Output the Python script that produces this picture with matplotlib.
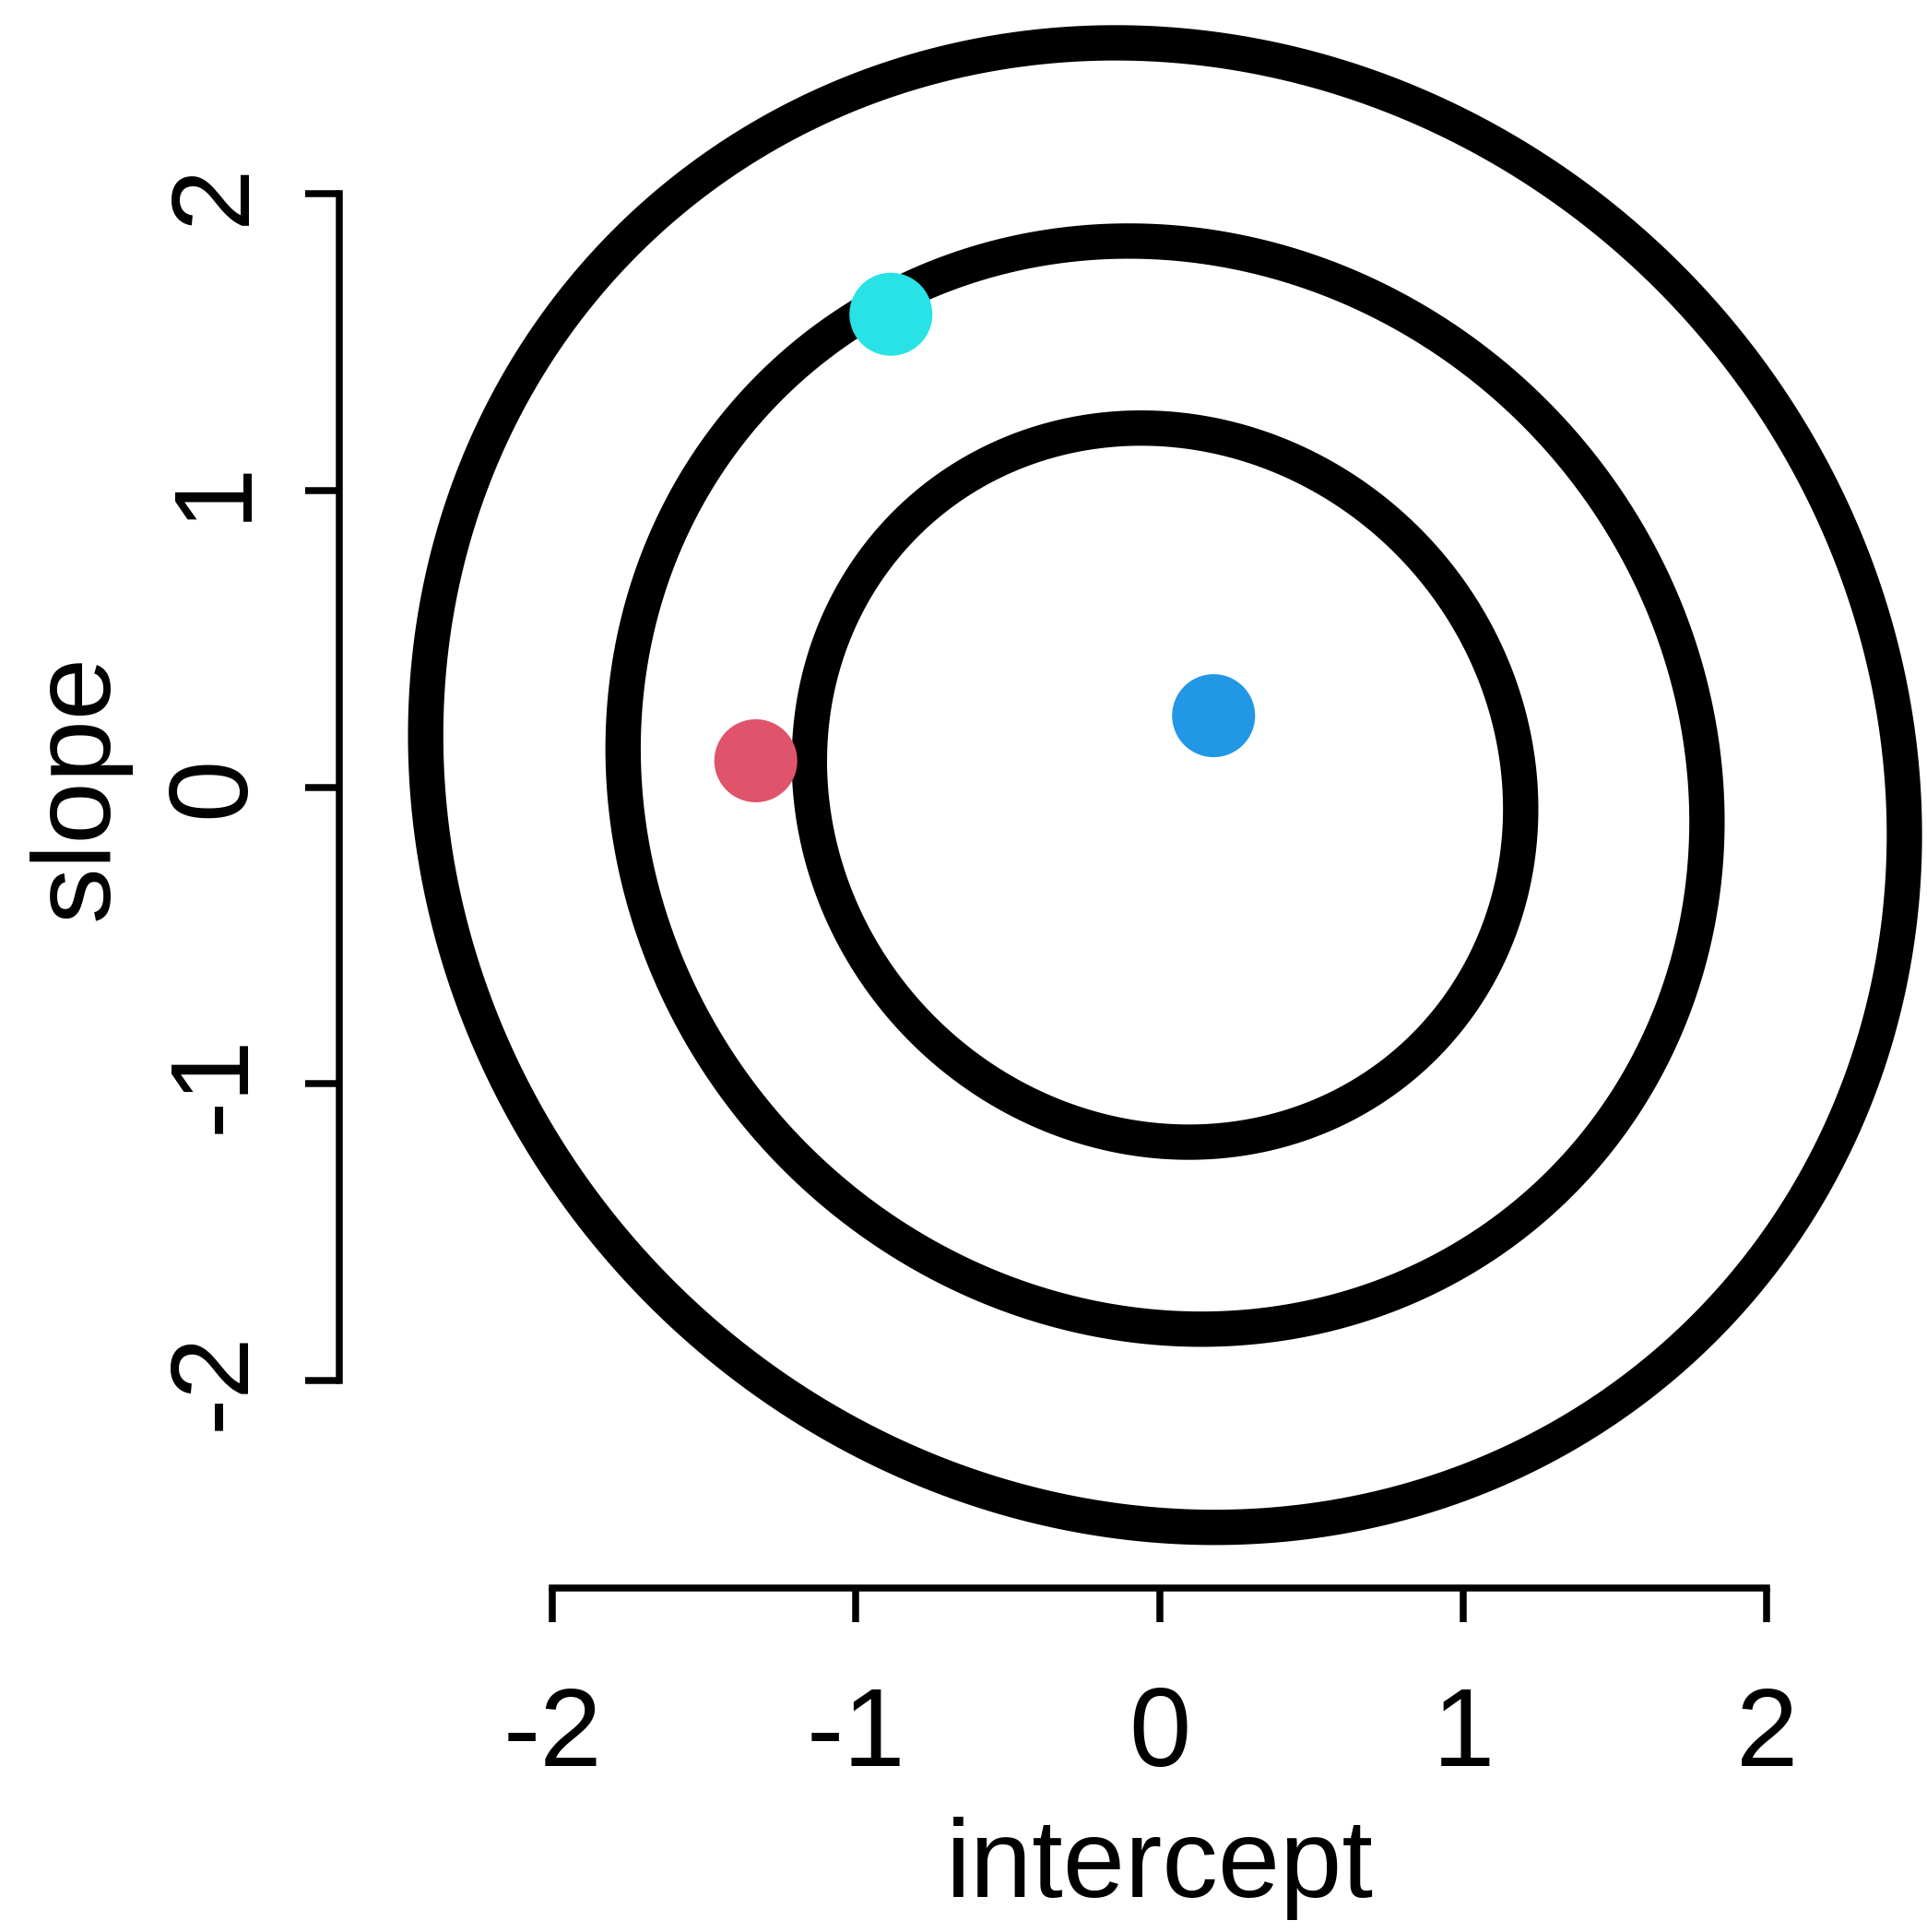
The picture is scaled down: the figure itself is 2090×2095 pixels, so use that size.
import numpy as np
import matplotlib
matplotlib.use("Agg")
import matplotlib.pyplot as plt
from matplotlib.transforms import blended_transform_factory

plt.rcParams["font.family"] = ["Liberation Sans", "DejaVu Sans"]
plt.rcParams["axes.unicode_minus"] = False

# Bivariate normal over (intercept, slope)
mean_intercept = 0.018
mean_slope = 0.007
sd_intercept = 0.995
sd_slope = 1.022
rho = -0.067
coverage = [0.50, 0.80, 0.95]

# Highlighted parameter pairs
point_intercept = [-1.33, -0.885, 0.178]
point_slope = [0.089, 1.594, 0.241]
point_colors = ["#DF536B", "#28E2E5", "#2297E6"]

tick_values = [-2, -1, 0, 1, 2]
tick_labels = ["-2", "-1", "0", "1", "2"]

W, H = 2090, 2095
fig = plt.figure(figsize=(W / 100, H / 100), dpi=100)
ax = fig.add_axes([368 / W, (H - 1722) / H, (W - 368) / W, 1722 / H])
ax.set_xlim(-2.702, 2.528)
ax.set_ylim(-2.699, 2.653)

# density on a grid
gx = np.linspace(-2.702, 2.528, 600)
gy = np.linspace(-2.699, 2.653, 600)
X, Y = np.meshgrid(gx, gy)
zx = (X - mean_intercept) / sd_intercept
zy = (Y - mean_slope) / sd_slope
q = (zx ** 2 - 2 * rho * zx * zy + zy ** 2) / (1 - rho ** 2)
norm = 1.0 / (2 * np.pi * sd_intercept * sd_slope * np.sqrt(1 - rho ** 2))
dens = norm * np.exp(-q / 2)
# density thresholds enclosing each coverage probability
radii2 = [-2 * np.log(1 - p) for p in coverage]
levels = sorted(norm * np.exp(-r2 / 2) for r2 in radii2)
ax.contour(X, Y, dens, levels=levels, colors="black", linewidths=27.6)

ax.scatter(point_intercept, point_slope, s=4200, c=point_colors,
           edgecolors="none", zorder=5, clip_on=False)

for side in ("top", "right"):
    ax.spines[side].set_visible(False)
for side in ("left", "bottom"):
    ax.spines[side].set_linewidth(5.4)
    ax.spines[side].set_bounds(-2, 2)

ax.set_xticks(tick_values)
ax.set_xticklabels(tick_labels)
ax.set_yticks(tick_values)
ax.set_yticklabels(tick_labels, rotation=90, va="center")
ax.tick_params(axis="both", direction="out", length=26.6, width=5.4,
               labelsize=87)
ax.tick_params(axis="x", pad=50)
ax.tick_params(axis="y", pad=30)

xt = blended_transform_factory(ax.transData, fig.transFigure)
fig.text(0, (H - 2057) / H, "intercept", transform=xt, ha="center",
         va="baseline", fontsize=87)
yt = blended_transform_factory(fig.transFigure, ax.transData)
fig.text(86 / W, 0, "slope", transform=yt, rotation=90, ha="center",
         va="center", fontsize=87)

fig.savefig("out.png", dpi=100, facecolor="white")
